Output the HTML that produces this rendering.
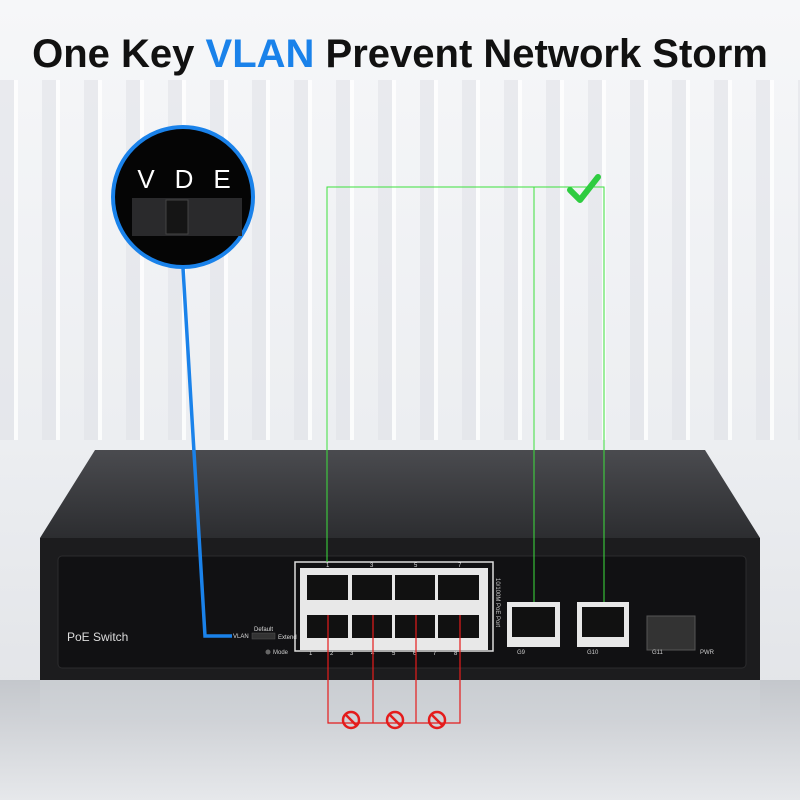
<!DOCTYPE html><html><head><style>
body{margin:0;width:800px;height:800px;overflow:hidden;font-family:"Liberation Sans",sans-serif}
</style></head><body>
<svg width="800" height="800" xmlns="http://www.w3.org/2000/svg">
<defs>
<linearGradient id="bg" x1="0" y1="0" x2="0" y2="1"><stop offset="0" stop-color="#f6f7f9"/><stop offset="0.55" stop-color="#eceef1"/><stop offset="1" stop-color="#dfe1e5"/></linearGradient>
<pattern id="blind" width="42" height="800" patternUnits="userSpaceOnUse"><rect x="0" width="14" height="800" fill="#dde0e5" opacity="0.5"/><rect x="14" width="4" height="800" fill="#fff" opacity="0.8"/></pattern>
<linearGradient id="top" x1="0" y1="0" x2="0" y2="1"><stop offset="0" stop-color="#4a4b4f"/><stop offset="1" stop-color="#2c2d30"/></linearGradient>
<linearGradient id="refl" x1="0" y1="0" x2="0" y2="1"><stop offset="0" stop-color="#c4c7cc"/><stop offset="1" stop-color="#e6e8eb"/></linearGradient>
</defs>
<rect width="800" height="800" fill="url(#bg)"/>
<rect y="80" width="800" height="360" fill="url(#blind)"/>
<rect y="680" width="800" height="120" fill="url(#refl)"/>
<text x="400" y="67" text-anchor="middle" font-size="40" font-weight="bold" fill="#111">One Key <tspan fill="#1a82ea">VLAN</tspan>  Prevent Network Storm</text>
<polygon points="95,450 705,450 760,538 40,538" fill="url(#top)"/>
<rect x="40" y="538" width="720" height="142" fill="#1c1c1e"/>
<rect x="58" y="556" width="688" height="112" rx="4" fill="#111113" stroke="#2c2c2e"/>
<text x="67" y="641" font-size="12" fill="#ddd">PoE Switch</text>
<text x="233" y="638" font-size="6" fill="#ddd">VLAN</text>
<text x="254" y="631" font-size="6" fill="#ddd">Default</text>
<text x="278" y="639" font-size="6" fill="#ddd">Extend</text>
<rect x="252" y="633" width="23" height="6" fill="#333" stroke="#555" stroke-width="0.5"/>
<circle cx="268" cy="652" r="2.5" fill="#666"/><text x="273" y="654" font-size="6" fill="#ccc">Mode</text>
<rect x="295" y="562" width="198" height="89" fill="none" stroke="#ddd" stroke-width="1.5"/>
<rect x="300" y="568" width="188" height="82" fill="#e8e8e8"/>
<g fill="#111">
<rect x="307" y="575" width="41" height="25"/><rect x="352" y="575" width="40" height="25"/><rect x="395" y="575" width="40" height="25"/><rect x="438" y="575" width="41" height="25"/>
<rect x="307" y="615" width="41" height="23"/><rect x="352" y="615" width="40" height="23"/><rect x="395" y="615" width="40" height="23"/><rect x="438" y="615" width="41" height="23"/>
</g>
<g font-size="6" fill="#ddd"><text x="326" y="567">1</text><text x="370" y="567">3</text><text x="414" y="567">5</text><text x="458" y="567">7</text>
<text x="309" y="655">1</text><text x="330" y="655">2</text><text x="350" y="655">3</text><text x="371" y="655">4</text><text x="392" y="655">5</text><text x="413" y="655">6</text><text x="433" y="655">7</text><text x="454" y="655">8</text></g>
<text x="496" y="578" font-size="6" fill="#ccc" transform="rotate(90 496 578)">10/100M PoE Port</text>
<rect x="507" y="602" width="53" height="45" fill="#e8e8e8"/><rect x="512" y="607" width="43" height="30" fill="#111"/>
<rect x="577" y="602" width="52" height="45" fill="#e8e8e8"/><rect x="582" y="607" width="42" height="30" fill="#111"/>
<rect x="647" y="616" width="48" height="34" fill="#333" stroke="#555"/>
<g font-size="6" fill="#ccc"><text x="517" y="654">G9</text><text x="587" y="654">G10</text><text x="652" y="654">G11</text><text x="700" y="654">PWR</text></g>
<rect x="40" y="680" width="720" height="40" fill="#d0d3d7" opacity="0.5"/>
<polyline points="327,562 327,187 604,187 604,602" fill="none" stroke="#3de03d" stroke-width="1"/>
<line x1="534" y1="187" x2="534" y2="602" stroke="#3de03d" stroke-width="1"/>
<path d="M570 190 L580 200 L598 177" fill="none" stroke="#2ecc40" stroke-width="6" stroke-linecap="round" stroke-linejoin="round"/>
<polyline points="328,615 328,723 460,723 460,615" fill="none" stroke="#e41c1c" stroke-width="1.2"/>
<line x1="373" y1="615" x2="373" y2="723" stroke="#e41c1c" stroke-width="1.2"/>
<line x1="416" y1="615" x2="416" y2="723" stroke="#e41c1c" stroke-width="1.2"/>
<g fill="none" stroke="#e41c1c" stroke-width="2.5">
<circle cx="351" cy="720" r="8"/><line x1="345" y1="714" x2="357" y2="726"/>
<circle cx="395" cy="720" r="8"/><line x1="389" y1="714" x2="401" y2="726"/>
<circle cx="437" cy="720" r="8"/><line x1="431" y1="714" x2="443" y2="726"/>
</g>
<polyline points="183,268 205,636 232,636" fill="none" stroke="#1a82ea" stroke-width="3.5"/>
<circle cx="183" cy="197" r="70" fill="#050505" stroke="#1a82ea" stroke-width="4"/>
<g font-size="26" fill="#fff" text-anchor="middle"><text x="146" y="188">V</text><text x="184" y="188">D</text><text x="222" y="188">E</text></g>
<rect x="132" y="198" width="110" height="38" fill="#2a2a2c"/>
<rect x="166" y="200" width="22" height="34" fill="#151515" stroke="#444"/>
</svg>
</body></html>
